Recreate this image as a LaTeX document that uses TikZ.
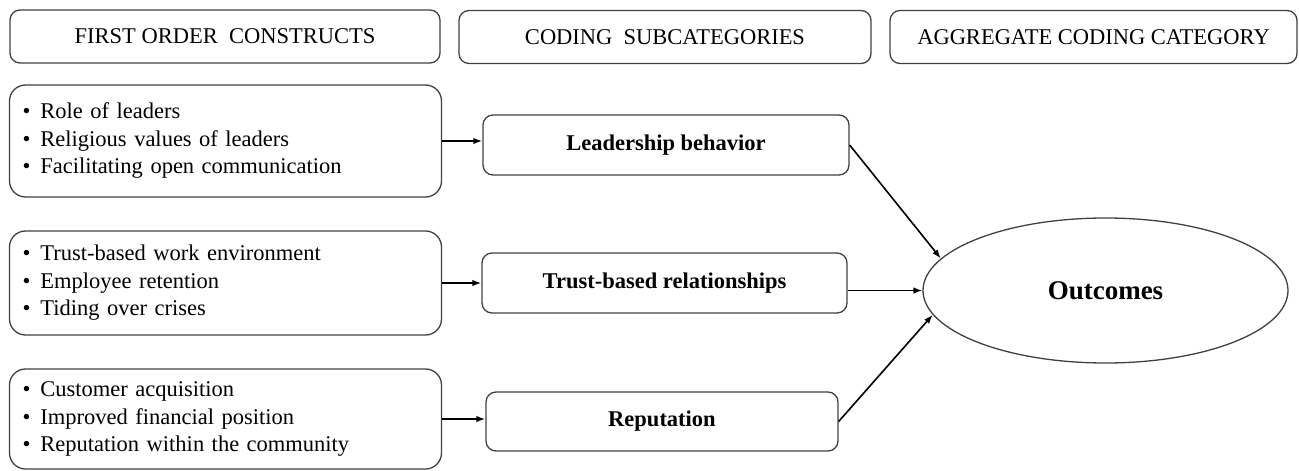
\documentclass[tikz,border=0pt]{standalone}
\usepackage{fontspec}
\setmainfont{Liberation Serif}
\usetikzlibrary{arrows.meta,shapes.geometric}
\newcommand\bul{\textbullet\hspace{0.45em}}

\begin{document}
\begin{tikzpicture}[x=1pt,y=-1pt,
    font=\fontsize{22.5}{27.5}\selectfont,
    head/.style={draw=black!75,line width=1.3pt,rounded corners=10pt,minimum height=53pt},
    group/.style={draw=black!75,line width=1.3pt,rounded corners=16pt,minimum width=432pt,
      text width=406pt,align=left,inner xsep=13pt},
    sub/.style={draw=black!75,line width=1.3pt,rounded corners=10pt,minimum height=60pt,
      font=\fontsize{22.5}{27.5}\selectfont\bfseries},
    arr/.style={-{Latex[length=9pt,width=6.5pt]},line width=1.6pt}]
  \useasboundingbox (0,0) rectangle (1299,471);
  % Kopfzeile
  \node[head,minimum width=430pt] (h1) at (225,36.5) {FIRST ORDER\ \ CONSTRUCTS};
  \node[head,minimum width=412pt] (h2) at (665,37) {CODING\ \ SUBCATEGORIES};
  \node[head,minimum width=407pt] (h3) at (1093.5,37) {AGGREGATE CODING CATEGORY};
  % Konstrukte
  \node[group,minimum height=112pt] (g1) at (225.5,141)
    {\bul Role of leaders\\ \bul Religious values of leaders\\ \bul Facilitating open communication};
  \node[group,minimum height=104pt] (g2) at (225.5,283)
    {\bul Trust-based work environment\\ \bul Employee retention\\ \bul Tiding over crises};
  \node[group,minimum height=100pt] (g3) at (225.5,419)
    {\bul Customer acquisition\\ \bul Improved financial position\\ \bul Reputation within the community};
  % Subkategorien
  \node[sub,minimum width=366pt] (lead) at (666,145) {Leadership behavior};
  \node[sub,minimum width=365pt] (trust) at (664.5,283) {Trust-based relationships};
  \node[sub,minimum width=352pt,minimum height=59pt] (rep) at (662,421.5) {Reputation};
  % Ergebnis
  \node[draw=black!75,line width=1.3pt,ellipse,minimum width=365pt,minimum height=145pt,
    font=\fontsize{27}{32}\selectfont\bfseries] (out) at (1105.5,290.5) {Outcomes};
  % Pfeile
  \draw[arr] (g1.east) -- (g1.east -| lead.west);
  \draw[arr] (g2.east) -- (g2.east -| trust.west);
  \draw[arr] (g3.east) -- (g3.east -| rep.west);
  \draw[arr] (lead.east) -- (out.169);
  \draw[arr] (trust.east |- out.west) -- (out.west);
  \draw[arr] (rep.east) -- (out.188);
\end{tikzpicture}
\end{document}
